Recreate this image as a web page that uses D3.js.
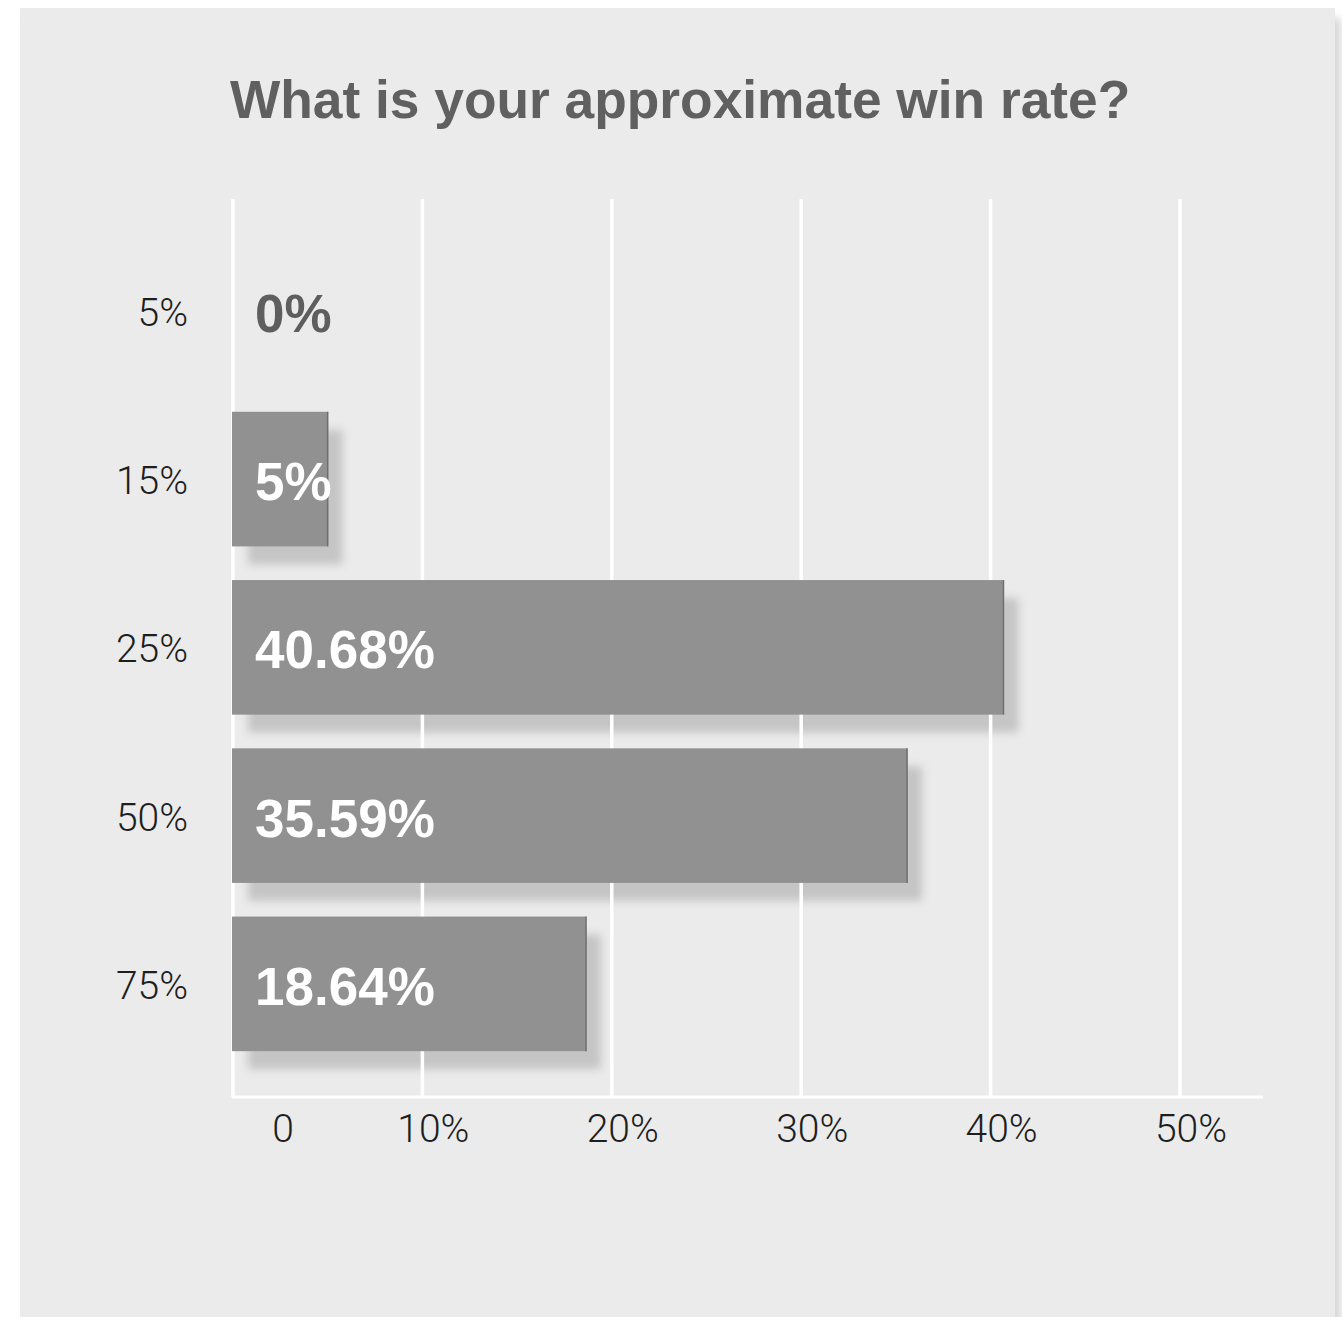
<!DOCTYPE html>
<html>
<head>
<meta charset="utf-8">
<script src="https://cdn.jsdelivr.net/npm/d3@7"></script>
<style>
  html, body { margin: 0; padding: 0; background: #ffffff; }
  svg { display: block; }
</style>
</head>
<body>
<svg id="chart" width="1342" height="1317"></svg>
<script>
// Survey answers: share of respondents per win-rate bracket
const categories = ["5%", "15%", "25%", "50%", "75%"];
const values = [0, 5, 40.68, 35.59, 18.64];
const valueLabels = ["0%", "5%", "40.68%", "35.59%", "18.64%"];
const xTicks = [0, 10, 20, 30, 40, 50];
const xTickLabels = ["0", "10%", "20%", "30%", "40%", "50%"];
const title = "What is your approximate win rate?";

const svg = d3.select("#chart");
const defs = svg.append("defs");

// soft shadow behind the card
const cardShadow = defs.append("filter").attr("id", "cardShadow")
  .attr("x", "-5%").attr("y", "-5%").attr("width", "110%").attr("height", "110%");
cardShadow.append("feDropShadow")
  .attr("dx", 6).attr("dy", 10).attr("stdDeviation", 4)
  .attr("flood-color", "#000").attr("flood-opacity", 0.16);

// blur used for the bar shadows
const barBlur = defs.append("filter").attr("id", "barBlur")
  .attr("x", "-20%").attr("y", "-20%").attr("width", "140%").attr("height", "140%");
barBlur.append("feGaussianBlur").attr("stdDeviation", 4);

// card
svg.append("rect")
  .attr("x", 20).attr("y", 8).attr("width", 1315).attr("height", 1340)
  .attr("fill", "#ebebeb")
  .attr("filter", "url(#cardShadow)");

// title
svg.append("text")
  .attr("x", 230).attr("y", 118)
  .attr("font-family", "'Liberation Sans', Arial, Helvetica, sans-serif")
  .attr("font-weight", 700)
  .attr("font-size", 53.3)
  .attr("fill", "#606060")
  .text(title);

// scales
const x = d3.scaleLinear().domain([0, 50]).range([233, 1180]);
const y = d3.scaleBand().domain(categories).range([226.7, 1068]).paddingInner(0.2).paddingOuter(0.1);

const data = categories.map((c, i) => ({ cat: c, value: values[i], label: valueLabels[i] }));

// bar shadows (under the gridlines)
svg.append("g").selectAll("rect")
  .data(data.filter(d => d.value > 0))
  .join("rect")
  .attr("x", d => x(0) + 15)
  .attr("y", d => y(d.cat) + 18)
  .attr("width", d => x(d.value) - x(0))
  .attr("height", y.bandwidth())
  .attr("fill", "#000")
  .attr("fill-opacity", 0.16)
  .attr("filter", "url(#barBlur)");

// vertical gridlines
const gridTop = 199, gridBottom = 1097;
svg.append("g").selectAll("line")
  .data(xTicks)
  .join("line")
  .attr("x1", d => x(d)).attr("x2", d => x(d))
  .attr("y1", gridTop).attr("y2", gridBottom)
  .attr("stroke", "#ffffff")
  .attr("stroke-width", 3.5);

// baseline axis
svg.append("line")
  .attr("x1", x(0) - 1).attr("x2", 1263)
  .attr("y1", gridBottom).attr("y2", gridBottom)
  .attr("stroke", "#ffffff").attr("stroke-width", 3);

// bars
const bars = svg.append("g");
bars.selectAll("rect")
  .data(data.filter(d => d.value > 0))
  .join("rect")
  .attr("x", x(0) - 1)
  .attr("y", d => y(d.cat))
  .attr("width", d => x(d.value) - x(0) + 1)
  .attr("height", y.bandwidth())
  .attr("fill", "#919191");
bars.selectAll("line")
  .data(data.filter(d => d.value > 0))
  .join("line")
  .attr("x1", d => x(d.value)).attr("x2", d => x(d.value))
  .attr("y1", d => y(d.cat)).attr("y2", d => y(d.cat) + y.bandwidth())
  .attr("stroke", "#6e6e6e").attr("stroke-width", 1.5);

// value labels
svg.append("g").selectAll("text")
  .data(data)
  .join("text")
  .attr("x", d => x(0) + 22)
  .attr("y", d => y(d.cat) + y.bandwidth() / 2 + 21)
  .attr("font-family", "'Liberation Sans', Arial, Helvetica, sans-serif")
  .attr("font-weight", 700)
  .attr("font-size", 53)
  .attr("fill", d => d.value > 0 ? "#ffffff" : "#5e5e5e")
  .text(d => d.label);

const tickFont = "Roboto, 'Liberation Sans', Arial, sans-serif";

// category labels
svg.append("g").selectAll("text")
  .data(categories)
  .join("text")
  .attr("x", 188)
  .attr("y", d => y(d) + y.bandwidth() / 2 + 15)
  .attr("text-anchor", "end")
  .attr("font-family", tickFont)
  .attr("font-weight", 300)
  .attr("font-size", 39)
  .attr("fill", "#1e1e1e")
  .text(d => d);

// x tick labels
svg.append("g").selectAll("text")
  .data(xTicks)
  .join("text")
  .attr("x", (d, i) => x(d) + (d === 0 ? 50 : 11))
  .attr("y", 1142)
  .attr("text-anchor", "middle")
  .attr("font-family", tickFont)
  .attr("font-weight", 300)
  .attr("font-size", 39)
  .attr("fill", "#1e1e1e")
  .text((d, i) => xTickLabels[i]);
</script>
</body>
</html>
